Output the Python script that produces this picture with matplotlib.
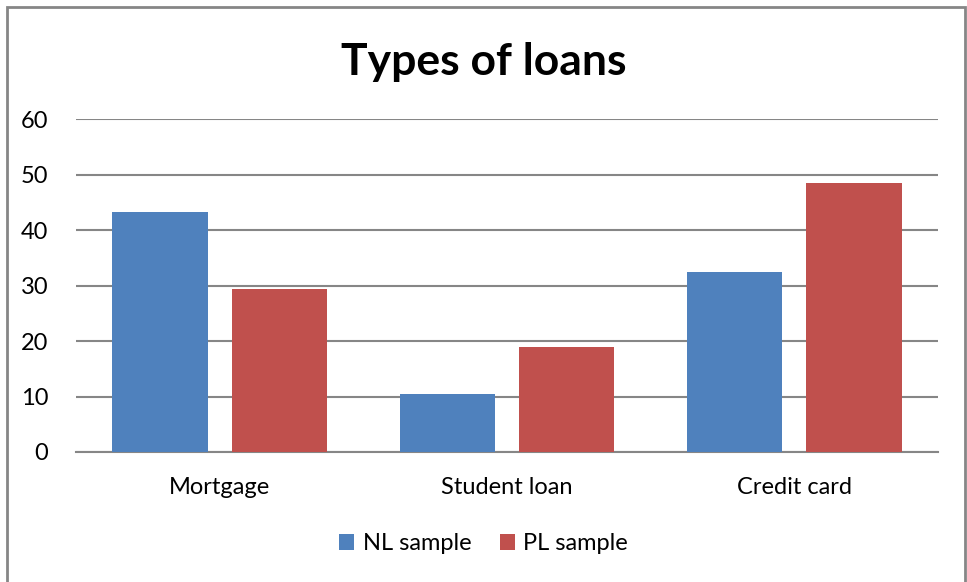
import matplotlib.pyplot as plt
import numpy as np
from matplotlib.patches import Rectangle

categories = ['Mortgage', 'Student loan', 'Credit card']
nl_sample = [43.3, 10.4, 32.5]
pl_sample = [29.4, 18.9, 48.4]
y_ticks = [0, 10, 20, 30, 40, 50, 60]

plt.rcParams['font.family'] = ['Lato', 'DejaVu Sans']

fig = plt.figure(figsize=(9.67, 5.82), dpi=100)
ax = fig.add_axes([76 / 967, 1 - 452 / 582, 862 / 967, 333 / 582])

x = np.arange(len(categories))
w = 0.332
ax.bar(x - 0.208, nl_sample, width=w, color='#4f81bd', label='NL sample', zorder=3)
ax.bar(x + 0.208, pl_sample, width=w, color='#c0504d', label='PL sample', zorder=3)

ax.set_xlim(-0.5, 2.5)
ax.set_ylim(0, 60)
ax.set_yticks(y_ticks)
ax.set_xticks(x)
ax.set_xticklabels(categories, fontsize=17)
ax.tick_params(axis='y', length=0, pad=20, labelsize=17)
ax.tick_params(axis='x', length=0, pad=18)
ax.yaxis.grid(True, color='#868686', linewidth=1.5, zorder=0)
for s in ['top', 'right', 'left']:
    ax.spines[s].set_visible(False)
ax.spines['bottom'].set_color('#868686')
ax.spines['bottom'].set_linewidth(1.5)

fig.text(0.5, 1 - 75 / 582, 'Types of loans', ha='center', va='baseline',
         fontsize=32, fontweight='bold')

fig.legend(loc='center', bbox_to_anchor=(0.5, 1 - 544 / 582), ncol=2,
           frameon=False, fontsize=17, handlelength=0.65, handleheight=0.65,
           handletextpad=0.35, columnspacing=1.2)

# chart border
fig.patches.append(Rectangle((7 / 967, -0.01), 958 / 967, 1 - 7 / 582 + 0.01,
                             transform=fig.transFigure, fill=False,
                             edgecolor='#868686', linewidth=2))

fig.savefig('out.png', dpi=100)
